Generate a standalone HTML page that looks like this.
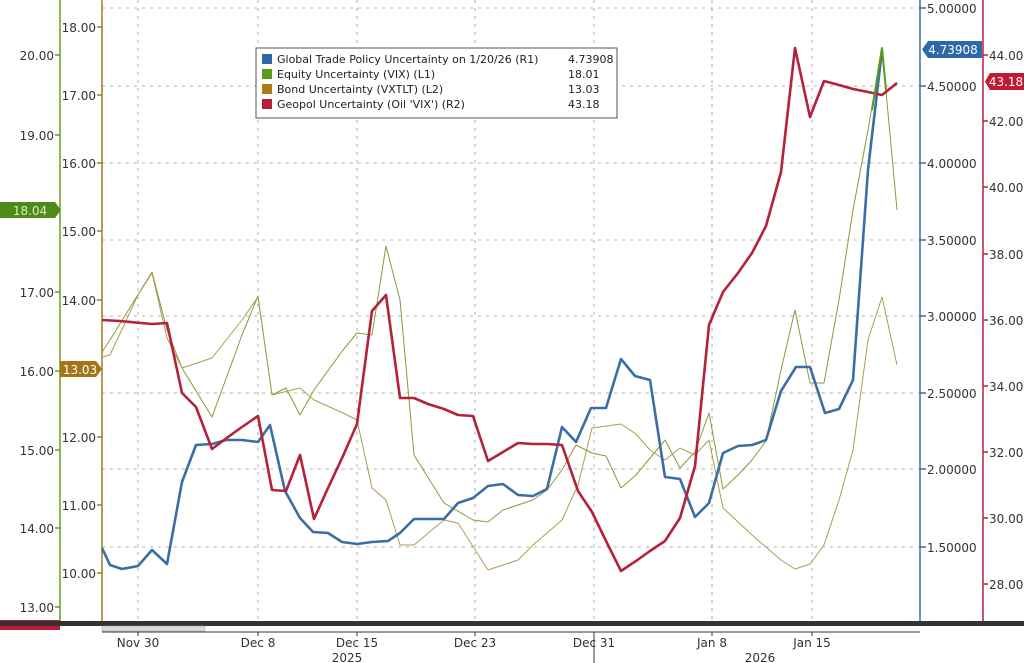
<!DOCTYPE html>
<html><head><meta charset="utf-8"><style>
body{margin:0;background:#fff;}
svg{display:block;font-family:"DejaVu Sans","Liberation Sans",sans-serif;}
</style></head><body>
<svg width="1024" height="663" viewBox="0 0 1024 663">
<rect width="1024" height="663" fill="#fff"/>
<g stroke="#999" stroke-width="0.8" stroke-dasharray="3,5">
<line x1="102" y1="8" x2="920" y2="8"/><line x1="102" y1="86" x2="920" y2="86"/><line x1="102" y1="163" x2="920" y2="163"/><line x1="102" y1="240" x2="920" y2="240"/><line x1="102" y1="316" x2="920" y2="316"/><line x1="102" y1="393" x2="920" y2="393"/><line x1="102" y1="469" x2="920" y2="469"/><line x1="102" y1="547" x2="920" y2="547"/>
<line x1="138" y1="0" x2="138" y2="621"/><line x1="258" y1="0" x2="258" y2="621"/><line x1="357" y1="0" x2="357" y2="621"/><line x1="475" y1="0" x2="475" y2="621"/><line x1="594" y1="0" x2="594" y2="621"/><line x1="712" y1="0" x2="712" y2="621"/><line x1="812" y1="0" x2="812" y2="621"/>
</g>
<line x1="60" y1="0" x2="60" y2="621" stroke="#6a9a2a" stroke-width="1.5"/>
<line x1="102" y1="0" x2="102" y2="621" stroke="#a07a20" stroke-width="1.5"/>
<line x1="920" y1="0" x2="920" y2="621" stroke="#3a6ea5" stroke-width="1.5"/>
<line x1="983" y1="0" x2="983" y2="621" stroke="#b5203a" stroke-width="1.5"/>
<g stroke-width="1.5">
<g stroke="#6a9a2a"><line x1="55" y1="55" x2="60" y2="55"/><line x1="55" y1="135" x2="60" y2="135"/><line x1="55" y1="292" x2="60" y2="292"/><line x1="55" y1="371" x2="60" y2="371"/><line x1="55" y1="450" x2="60" y2="450"/><line x1="55" y1="528" x2="60" y2="528"/><line x1="55" y1="607" x2="60" y2="607"/></g>
<g stroke="#a07a20"><line x1="97" y1="27" x2="102" y2="27"/><line x1="97" y1="95" x2="102" y2="95"/><line x1="97" y1="163" x2="102" y2="163"/><line x1="97" y1="231" x2="102" y2="231"/><line x1="97" y1="300" x2="102" y2="300"/><line x1="97" y1="437" x2="102" y2="437"/><line x1="97" y1="505" x2="102" y2="505"/><line x1="97" y1="573" x2="102" y2="573"/></g>
<g stroke="#3a6ea5"><line x1="920" y1="8" x2="926" y2="8"/><line x1="920" y1="86" x2="926" y2="86"/><line x1="920" y1="163" x2="926" y2="163"/><line x1="920" y1="240" x2="926" y2="240"/><line x1="920" y1="316" x2="926" y2="316"/><line x1="920" y1="393" x2="926" y2="393"/><line x1="920" y1="469" x2="926" y2="469"/><line x1="920" y1="547" x2="926" y2="547"/></g>
<g stroke="#b5203a"><line x1="983" y1="55" x2="988" y2="55"/><line x1="983" y1="121" x2="988" y2="121"/><line x1="983" y1="187" x2="988" y2="187"/><line x1="983" y1="254" x2="988" y2="254"/><line x1="983" y1="320" x2="988" y2="320"/><line x1="983" y1="386" x2="988" y2="386"/><line x1="983" y1="452" x2="988" y2="452"/><line x1="983" y1="518" x2="988" y2="518"/><line x1="983" y1="584" x2="988" y2="584"/></g>
</g>
<g font-size="12" fill="#333">
<g text-anchor="end">
<text x="54" y="60">20.00</text><text x="54" y="140">19.00</text><text x="54" y="297">17.00</text><text x="54" y="376">16.00</text><text x="54" y="455">15.00</text><text x="54" y="533">14.00</text><text x="54" y="612">13.00</text>
<text x="96" y="32">18.00</text><text x="96" y="100">17.00</text><text x="96" y="168">16.00</text><text x="96" y="236">15.00</text><text x="96" y="305">14.00</text><text x="96" y="442">12.00</text><text x="96" y="510">11.00</text><text x="96" y="578">10.00</text>
</g>
<text x="927" y="13">5.00000</text><text x="927" y="91">4.50000</text><text x="927" y="168">4.00000</text><text x="927" y="245">3.50000</text><text x="927" y="321">3.00000</text><text x="927" y="398">2.50000</text><text x="927" y="474">2.00000</text><text x="927" y="552">1.50000</text>
<text x="989" y="60">44.00</text><text x="989" y="126">42.00</text><text x="989" y="192">40.00</text><text x="989" y="259">38.00</text><text x="989" y="325">36.00</text><text x="989" y="391">34.00</text><text x="989" y="457">32.00</text><text x="989" y="523">30.00</text><text x="989" y="589">28.00</text>
</g>
<g fill="none" stroke-linejoin="round">
<polyline stroke="#8a9a3a" stroke-width="1" points="102,352 110,340 152,272 167,330 182,368 212,417 242,335 258,296 272,395 286,388 300,415 314,390 343,350 357,333 372,335 386,246 400,300 414,455 444,503 473,520 488,522 503,510 533,500 547,490 562,470 576,445 592,453 606,456 621,488 636,475 650,458 665,440 680,468 695,452 709,413 723,489 738,475 752,460 766,441 781,370 795,310 810,383 824,383 839,300 853,210 868,130 882,48 897,210"/>
<polyline stroke="#b09a50" stroke-width="1" points="102,357 110,355 138,295 152,273 167,338 182,368 212,358 242,320 258,297 272,395 300,388 314,400 343,413 357,420 372,488 386,500 400,545 414,545 444,520 458,523 488,570 503,565 518,560 533,545 547,533 562,520 578,485 592,428 621,424 636,434 650,450 665,460 680,448 695,455 709,440 723,508 752,535 781,560 795,569 810,564 824,545 839,500 853,450 868,340 882,297 897,365"/>
<polyline stroke="#3a6ea5" stroke-width="2.6" points="102,548 110,565 122,569 138,566 152,550 167,564 182,482 196,445 212,444 226,440 242,440 258,442 270,425 285,491 300,518 313,532 328,533 342,542 357,544 372,542 388,541 400,533 414,519 428,519 444,519 458,503 473,498 488,486 503,484 518,495 533,496 547,489 562,427 576,442 591,408 606,408 621,359 635,376 650,380 665,477 680,479 695,517 709,503 723,453 738,446 752,445 766,440 781,391 796,367 810,367 825,413 839,409 853,380 868,170 882,50"/>
<polyline stroke="#b5203a" stroke-width="2.6" points="102,320 120,321 152,324 167,323 182,393 196,407 212,449 228,437 242,427 258,416 272,490 286,491 300,455 314,519 328,488 343,456 357,424 372,311 386,295 400,398 414,398 428,404 444,409 458,415 473,416 488,461 503,452 518,443 533,444 547,444 562,445 578,491 592,512 606,541 621,571 636,561 650,551 665,541 680,518 695,466 709,325 723,292 738,273 752,253 766,226 781,172 795,48 810,117 824,81 839,85 853,89 868,92 882,95 897,83"/>
<polyline stroke="#5a9a1a" stroke-width="2" points="872,110 882,48 886,90"/>
</g>
<polygon points="0,202 55,202 61,210 55,218 0,218" fill="#4e8a1a"/><text x="30" y="215" font-size="12" fill="#d8f0c0" text-anchor="middle">18.04</text>
<polygon points="60,361 96,361 102,369 96,377 60,377" fill="#a57414"/><text x="80" y="374" font-size="12" fill="#fff" text-anchor="middle">13.03</text>
<polygon points="928,41 982,41 982,58 928,58 922,49.5" fill="#2e68a8"/><text x="953" y="54" font-size="12" fill="#fff" text-anchor="middle">4.73908</text>
<polygon points="990,73 1024,73 1024,90 990,90 985,81.5" fill="#c01a32"/><text x="1006" y="86" font-size="12" fill="#fff" text-anchor="middle">43.18</text>
<rect x="0" y="620" width="60" height="10" fill="#c01a32"/>
<rect x="256" y="48" width="361" height="70" fill="#fff" stroke="#555"/>
<g font-size="11" fill="#222">
<rect x="262" y="54" width="10" height="10" fill="#2e68a8"/><text x="277" y="63">Global Trade Policy Uncertainty on 1/20/26 (R1)</text><text x="568" y="63">4.73908</text>
<rect x="262" y="69" width="10" height="10" fill="#5a9a1a"/><text x="277" y="78">Equity Uncertainty (VIX) (L1)</text><text x="568" y="78">18.01</text>
<rect x="262" y="84" width="10" height="10" fill="#b07a14"/><text x="277" y="93">Bond Uncertainty (VXTLT) (L2)</text><text x="568" y="93">13.03</text>
<rect x="262" y="99" width="10" height="10" fill="#b5203a"/><text x="277" y="108">Geopol Uncertainty (Oil 'VIX') (R2)</text><text x="568" y="108">43.18</text>
</g>
<rect x="0" y="621" width="1024" height="5" fill="#333"/>
<rect x="102" y="626" width="103" height="5" fill="#ddd" stroke="#999" stroke-width="0.5"/>
<line x1="102" y1="632" x2="920" y2="632" stroke="#333"/>
<g stroke="#333"><line x1="138" y1="632" x2="138" y2="636"/><line x1="258" y1="632" x2="258" y2="636"/><line x1="357" y1="632" x2="357" y2="636"/><line x1="475" y1="632" x2="475" y2="636"/><line x1="712" y1="632" x2="712" y2="636"/><line x1="812" y1="632" x2="812" y2="636"/></g>
<g font-size="12" fill="#333" text-anchor="middle">
<text x="138" y="647">Nov 30</text><text x="258" y="647">Dec 8</text><text x="357" y="647">Dec 15</text><text x="475" y="647">Dec 23</text><text x="594" y="647">Dec 31</text><text x="712" y="647">Jan 8</text><text x="812" y="647">Jan 15</text>
<text x="347" y="662">2025</text><text x="760" y="662">2026</text>
</g>
<line x1="594" y1="632" x2="594" y2="663" stroke="#333"/>
</svg>
</body></html>
